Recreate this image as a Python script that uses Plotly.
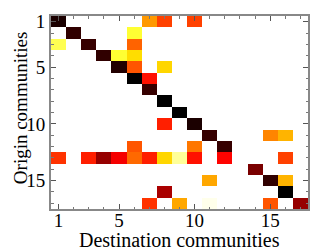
import plotly.graph_objects as go

n_communities = 17
tick_vals = [1, 5, 10, 15]
x_title = "Destination communities"
y_title = "Origin communities"

# sparse flow matrix: origin community, destination community, intensity (0..1)
origin = [1, 1, 1, 1,
          2, 2,
          3, 3, 3,
          4, 4, 4,
          5, 5, 5,
          6, 6,
          7,
          8,
          9,
          10, 10,
          11, 11, 11,
          12, 12, 12,
          13, 13, 13, 13, 13, 13, 13, 13, 13, 13, 13,
          14,
          15, 15, 15,
          16, 16,
          17, 17, 17, 17, 17]
destination = [1, 7, 8, 10,
               2, 6,
               1, 3, 6,
               4, 5, 6,
               5, 6, 8,
               6, 7,
               7,
               8,
               9,
               8, 10,
               11, 15, 16,
               6, 10, 12,
               1, 3, 4, 5, 6, 7, 8, 9, 10, 12, 16,
               14,
               11, 15, 16,
               8, 16,
               7, 9, 11, 15, 17]
intensity = [0.96, 0.40, 0.53, 0.53,
             0.93, 0.20,
             0.17, 0.92, 0.48,
             0.93, 0.20, 0.30,
             0.95, 0.50, 0.31,
             1.00, 0.60,
             0.92,
             1.00,
             1.00,
             0.58, 0.96,
             0.92, 0.43, 0.36,
             0.50, 0.45, 0.92,
             0.55, 0.58, 0.78, 0.64, 0.47, 0.58, 0.31, 0.10, 0.60, 0.62, 0.53,
             0.82,
             0.38, 0.93, 0.36,
             0.75, 1.00,
             0.55, 0.38, 0.02, 0.50, 0.78]

z = [[None] * n_communities for _ in range(n_communities)]
for o, d, v in zip(origin, destination, intensity):
    z[o - 1][d - 1] = v

hot_r = [[0.0, "#ffffff"], [0.25, "#ffff00"], [0.625, "#ff0000"], [1.0, "#000000"]]

fig = go.Figure(go.Heatmap(
    z=z,
    x=list(range(1, n_communities + 1)),
    y=list(range(1, n_communities + 1)),
    colorscale=hot_r, zmin=0, zmax=1,
    showscale=False, hoverongaps=False,
))

serif = "Liberation Serif, Times New Roman, serif"
axis_common = dict(
    tickvals=tick_vals, ticks="inside", ticklen=5, tickwidth=1, tickcolor="#555555",
    showline=True, linecolor="#888888", linewidth=2, mirror="allticks",
    showgrid=False, zeroline=False,
    minor=dict(dtick=1, ticks="inside", ticklen=2.5, tickcolor="#777777", showgrid=False),
    tickfont=dict(family=serif, size=19, color="#000000"),
)

fig.update_xaxes(range=[0.5, n_communities + 0.5], ticklabelstandoff=-7, **axis_common)
fig.update_yaxes(range=[n_communities + 0.5, 0.5], **axis_common)

fig.add_annotation(text=x_title, xref="paper", yref="paper", x=0.5, y=-0.16,
                   xanchor="center", yanchor="middle", showarrow=False,
                   font=dict(family=serif, size=20, color="#000000"))
fig.add_annotation(text=y_title, xref="paper", yref="paper", x=-0.1187, y=0.525,
                   xanchor="center", yanchor="middle", showarrow=False, textangle=-90,
                   font=dict(family=serif, size=19, color="#000000"))

fig.update_layout(
    width=332, height=250,
    margin=dict(l=43, r=32, t=3, b=49),
    paper_bgcolor="white", plot_bgcolor="white",
)

fig.write_html("out.html")
